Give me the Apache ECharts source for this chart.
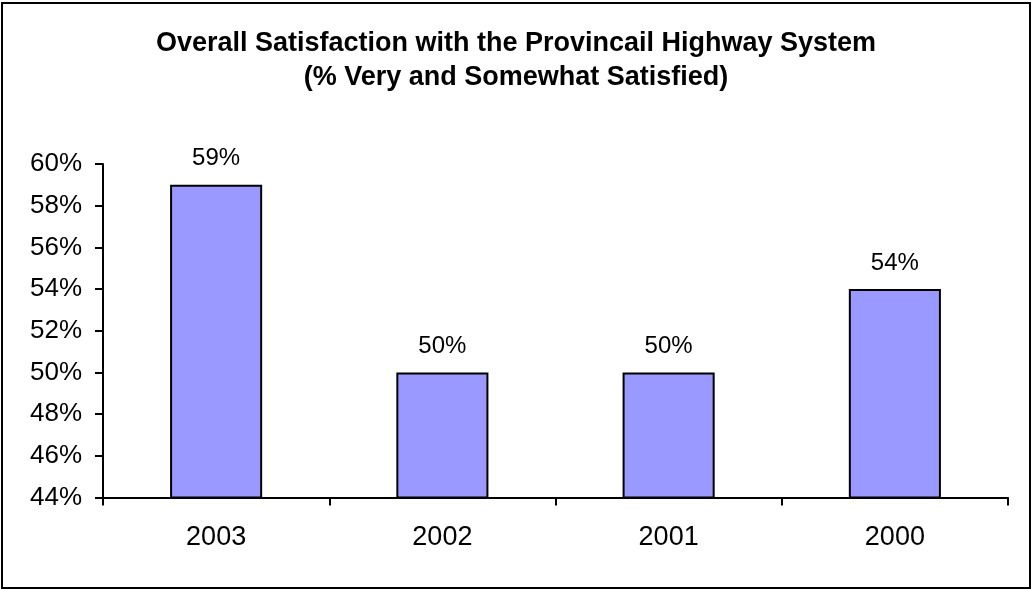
<!DOCTYPE html>
<html>
<head>
<meta charset="utf-8">
<script src="https://cdn.jsdelivr.net/npm/echarts@6/dist/echarts.min.js"></script>
<style>
  html, body { margin: 0; padding: 0; background: #fff; }
  #chart { width: 1032px; height: 590px; }
</style>
</head>
<body>
<div id="chart"></div>
<script>
// Survey years, left to right
const years = ['2003', '2002', '2001', '2000'];
// Share of respondents very or somewhat satisfied (%)
const satisfied = [59, 50, 50, 54];
// Value axis range and step (%)
const yMin = 44;
const yMax = 60;
const yStep = 2;

const FONT = '"Liberation Sans", Arial, sans-serif';

const chart = echarts.init(document.getElementById('chart'), null, { renderer: 'canvas' });

chart.setOption({
  animation: false,
  backgroundColor: '#ffffff',
  title: {
    text: 'Overall Satisfaction with the Provincail Highway System\n(% Very and Somewhat Satisfied)',
    left: 'center',
    top: 22,
    textStyle: {
      fontFamily: FONT,
      fontSize: 27,
      fontWeight: 'bold',
      color: '#000',
      lineHeight: 34
    }
  },
  graphic: [{
    type: 'rect',
    shape: { x: 2, y: 3, width: 1028, height: 585 },
    style: { fill: 'none', stroke: '#000', lineWidth: 2 },
    silent: true
  }],
  grid: { left: 103, right: 24, top: 164, bottom: 92.5 },
  xAxis: {
    type: 'category',
    data: years,
    axisLine: { lineStyle: { color: '#000', width: 2 } },
    axisTick: { show: true, length: 8, lineStyle: { color: '#000', width: 2 } },
    axisLabel: { color: '#000', fontFamily: FONT, fontSize: 27, margin: 27 },
    splitLine: { show: false }
  },
  yAxis: {
    type: 'value',
    min: yMin,
    max: yMax,
    interval: yStep,
    axisLine: { show: true, lineStyle: { color: '#000', width: 2 } },
    axisTick: { show: true, length: 8, lineStyle: { color: '#000', width: 2 } },
    axisLabel: { color: '#000', fontFamily: FONT, fontSize: 26, margin: 21, formatter: '{value}%' },
    splitLine: { show: false }
  },
  series: [{
    type: 'bar',
    data: satisfied,
    barWidth: '40.7%',
    itemStyle: { color: '#9999FF', borderColor: '#000', borderWidth: 2 },
    label: {
      show: true,
      position: 'top',
      distance: 14,
      color: '#000',
      fontFamily: FONT,
      fontSize: 24,
      formatter: '{c}%'
    }
  }]
});
</script>
</body>
</html>
